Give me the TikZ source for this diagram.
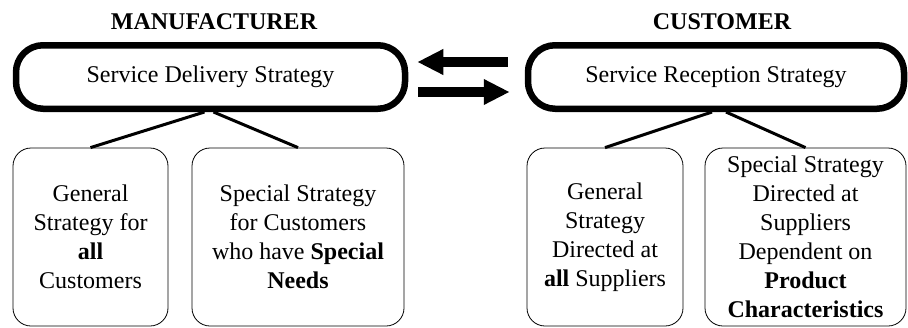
\documentclass[tikz,border=0pt]{standalone}
\usepackage{fontspec}
\setmainfont{Liberation Serif}
\usepackage{tikz}
\usetikzlibrary{arrows.meta, positioning}

\begin{document}
\begin{tikzpicture}[
    x=1pt, y=-1pt,
    titlenode/.style={font=\fontsize{24}{29}\selectfont\bfseries, inner sep=0pt},
    pillnode/.style={rectangle, draw=black, fill=white, rounded corners=27pt, line width=6.5pt, minimum height=63.5pt, align=center, font=\fontsize{24}{29}\selectfont},
    boxnode/.style={rectangle, draw=black, fill=white, rounded corners=18pt, line width=0.8pt, minimum height=178pt, align=center, inner sep=0pt, font=\fontsize{24}{29}\selectfont},
    bigarrow/.style={-{Triangle[length=26pt, width=24pt]}, line width=10pt, draw=black},
    branch/.style={line width=3pt, draw=black}
]
    \useasboundingbox (0,0) rectangle (908,327);

    % Nodes
    \node[titlenode] (mantitle) at (214, 22) {MANUFACTURER};
    \node[titlenode] (custitle) at (722, 22) {CUSTOMER};

    \node[pillnode, minimum width=389pt] (delivery) at (210.5, 77) {Service Delivery Strategy};
    \node[pillnode, minimum width=376pt] (reception) at (716, 77) {Service Reception Strategy};

    \node[boxnode, minimum width=155pt] (mangeneral) at (90.5, 237) {General\\Strategy for\\\textbf{all}\\Customers};
    \node[boxnode, minimum width=212pt] (manspecial) at (298, 237) {Special Strategy\\for Customers\\who have \textbf{Special}\\\textbf{Needs}};
    \node[boxnode, minimum width=156pt] (cusgeneral) at (605, 237) {General\\Strategy\\Directed at\\\textbf{all} Suppliers};
    \node[boxnode, minimum width=201pt] (cusspecial) at (805.5, 237) {Special Strategy\\Directed at\\Suppliers\\Dependent on\\\textbf{Product}\\\textbf{Characteristics}};

    % Edges
    \draw[bigarrow, shorten <=17pt, shorten >=9pt] ([yshift=15pt]reception.west) -- ([yshift=15pt]delivery.east);
    \draw[bigarrow, shorten <=10pt, shorten >=15pt] ([yshift=-15pt]delivery.east) -- ([yshift=-15pt]reception.west);

    \draw[branch] ([xshift=-6pt]delivery.south) -- (mangeneral.north);
    \draw[branch] ([xshift=3pt]delivery.south) -- (manspecial.north);
    \draw[branch] ([xshift=-4pt]reception.south) -- (cusgeneral.north);
    \draw[branch] ([xshift=10pt]reception.south) -- (cusspecial.north);
\end{tikzpicture}
\end{document}
